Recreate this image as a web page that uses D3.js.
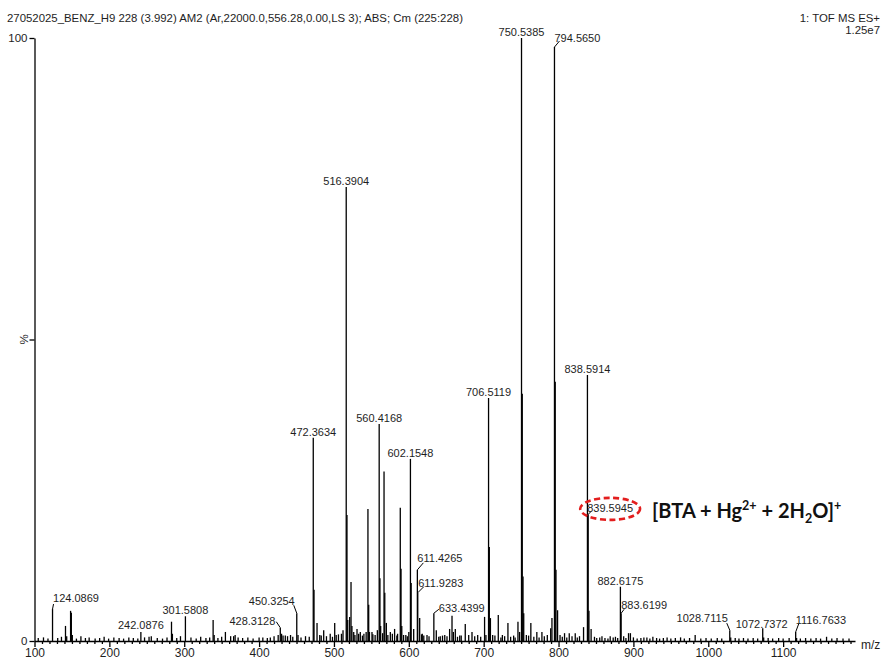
<!DOCTYPE html>
<html>
<head>
<meta charset="utf-8">
<script src="https://cdn.jsdelivr.net/npm/d3@7/dist/d3.min.js"></script>
<style>
  body { margin: 0; background: #fff; }
  svg text { font-family: "Liberation Sans", Arial, Helvetica, sans-serif; fill: #1e1e1e; }
</style>
</head>
<body>
<svg id="chart" width="885" height="659"></svg>
<script>
// header texts
const titleText = "27052025_BENZ_H9 228 (3.992) AM2 (Ar,22000.0,556.28,0.00,LS 3); ABS; Cm (225:228)";
const scanInfo = ["1: TOF MS ES+", "1.25e7"];

// axis ticks
const xTicks = [100, 200, 300, 400, 500, 600, 700, 800, 900, 1000, 1100];
const yTicks = [0, 50, 100];

// main peaks (m/z, relative intensity %)
const peakMz = [124.0869, 141.4, 143.0, 148.2, 149.2, 150.5, 242.0876, 256, 283.0, 284.2,
  301.5808, 338.6, 340, 355.0, 362, 368, 400, 415, 425.5, 428.3128, 430, 432, 438, 442,
  450.3254, 452, 472.3634, 473.37, 477.4, 481, 486.3, 495, 501.0, 503, 510, 512.1,
  516.3904, 517.39, 518.4, 521.0, 522.8, 524, 526.4, 530.8, 535.2, 540, 543, 545.4, 546.4,
  547.4, 550.8, 555, 558, 560.4168, 561.42, 562.4, 566.9, 567.9, 570, 575.3, 581, 585,
  588.6, 589.6, 590.6, 596, 600, 602.1548, 603.15, 606.5, 611.4265, 611.9283, 614.5, 618,
  624.3, 633.4399, 636.7, 642, 648, 654.5, 657.7, 659.5, 662.1, 670, 675.4, 680, 684.4,
  692, 701.2, 703, 706.5119, 707.52, 709, 712, 719.5, 725, 732.4, 740, 745.8, 748,
  750.5385, 751.54, 752.54, 753.5, 757, 763, 771, 777.8, 785, 789.5, 791.2, 794.5650,
  795.57, 796.57, 798.7, 802, 808, 814.3, 822.3, 828, 833.4, 838.5914, 839.5945, 840.6,
  843.5, 858, 869, 876, 882.6175, 883.6199, 887, 893.5, 896, 918, 926, 940, 963, 982.5,
  1028.7115, 1030, 1072.7372, 1074, 1116.7633, 1118, 1158];
const peakInt = [5.3, 2.5, 0.8, 5.0, 4.7, 1.0, 1.5, 0.8, 3.2, 1.2,
  4.1, 3.5, 1.0, 1.5, 0.8, 1.0, 0.6, 0.6, 1.0, 2.2, 1.2, 0.9, 0.8, 1.0,
  4.6, 1.0, 33.7, 8.5, 3.0, 1.0, 1.8, 1.2, 3.0, 1.0, 1.2, 1.8,
  75.3, 20.9, 3.5, 4.0, 9.8, 2.5, 1.5, 2.0, 1.5, 1.2, 1.5, 21.9, 6.0,
  1.5, 1.5, 1.0, 1.8, 36.0, 10.4, 2.5, 28.1, 8.0, 3.0, 1.5, 2.0, 1.2,
  22.1, 12.0, 2.5, 1.0, 1.5, 30.2, 9.6, 2.0, 11.8, 8.0, 3.8, 1.2,
  1.0, 4.6, 1.8, 0.8, 1.0, 2.0, 4.2, 1.5, 2.0, 0.9, 2.8, 1.0, 1.5,
  1.0, 4.0, 1.0, 40.3, 15.6, 3.8, 1.0, 4.3, 1.0, 3.0, 0.9, 3.2, 1.5,
  100, 41, 10.7, 4.6, 1.0, 3.0, 1.5, 1.5, 1.0, 2.1, 3.8, 98.5,
  43, 11.8, 5.1, 1.0, 1.3, 1.3, 1.3, 0.8, 2.3, 44.1, 21, 5.0,
  2.0, 0.8, 0.8, 0.7, 9.0, 4.6, 0.8, 1.3, 1.3, 0.6, 0.7, 0.5, 0.6, 1.0,
  1.8, 0.6, 2.1, 0.6, 1.5, 0.5, 0.7];

// baseline noise
const noiseMz = [105, 112, 118, 131, 136, 156, 162, 168, 173, 181, 187, 193, 199, 206, 213,
  219, 226, 232, 238, 247, 253, 264, 271, 277, 290, 295, 309, 316, 322, 329, 334, 345, 350,
  366, 372, 378, 385, 392, 405, 411, 420, 435, 445, 456, 462, 467, 483, 490, 498, 506, 528,
  533, 538, 552, 565, 572, 578, 584, 593, 598, 617, 620, 627, 640, 645, 651, 665, 668, 688,
  696, 715, 723, 728, 736, 742, 760, 767, 774, 781, 805, 811, 818, 825, 848, 851, 855, 862,
  866, 873, 879, 890, 900, 905, 910, 914, 922, 931, 935, 945, 950, 956, 968, 975, 990, 997,
  1004, 1012, 1018, 1036, 1041, 1047, 1053, 1060, 1066, 1080, 1086, 1094, 1100, 1108, 1123,
  1130, 1137, 1144, 1150, 1165, 1172, 1180, 1188];
const noiseInt = [0.5, 0.6, 0.4, 0.5, 0.7, 0.4, 0.8, 0.5, 0.6, 0.4, 0.5, 0.7, 0.4, 0.6, 0.5,
  0.4, 0.6, 0.5, 0.4, 0.6, 0.7, 0.5, 0.4, 0.6, 0.5, 0.8, 0.6, 0.4, 0.7, 0.5, 0.6, 0.5, 0.7,
  0.8, 0.6, 0.5, 0.6, 0.4, 0.6, 0.5, 0.8, 0.9, 0.7, 0.6, 0.8, 0.7, 0.9, 0.8, 0.7, 1.1, 1.0,
  1.2, 0.9, 1.1, 1.3, 1.0, 1.2, 0.9, 1.0, 0.8, 1.1, 0.9, 0.8, 0.7, 0.9, 0.8, 0.7, 0.9, 0.8,
  0.7, 0.9, 0.6, 0.8, 0.7, 0.6, 0.9, 0.7, 0.6, 0.8, 0.7, 0.6, 0.8, 0.6, 0.7, 0.5, 0.6, 0.5,
  0.4, 0.6, 0.5, 0.5, 0.6, 0.4, 0.5, 0.6, 0.4, 0.5, 0.4, 0.6, 0.4, 0.5, 0.4, 0.5, 0.4, 0.5,
  0.4, 0.5, 0.4, 0.5, 0.4, 0.5, 0.4, 0.5, 0.4, 0.5, 0.4, 0.5, 0.4, 0.5, 0.4,
  0.5, 0.4, 0.5, 0.4, 0.4, 0.5, 0.4, 0.4];

// labelled peaks
const labelMz = [124.0869, 242.0876, 301.5808, 428.3128, 450.3254, 472.3634, 516.3904,
  560.4168, 602.1548, 611.4265, 611.9283, 633.4399, 706.5119, 750.5385, 794.5650, 838.5914,
  839.5945, 882.6175, 883.6199, 1028.7115, 1072.7372, 1116.7633];
const highlightMz = 839.5945;
const annotationParts = [["[BTA + Hg", null], ["2+", "sup"], [" + 2H", null], ["2", "sub"], ["O]", null], ["+", "sup"]];

// label placement (anchor, text offset from peak top, leader end offset)
const labelPlace = {
  "124.0869": { anchor: "start", dx: 0.5, dy: -7, lx: 1, ly: -5 },
  "242.0876": { anchor: "middle", dx: 0, dy: -3 },
  "428.3128": { anchor: "end", dx: -5, dy: -3, lx: -4, ly: -6 },
  "450.3254": { anchor: "end", dx: -2, dy: -8, lx: -3, ly: -8 },
  "611.4265": { anchor: "start", dx: 0, dy: -7.5, lx: 6, ly: -7 },
  "611.9283": { anchor: "start", dx: 0.5, dy: -6, lx: 6, ly: -6 },
  "633.4399": { anchor: "start", dx: 5, dy: -1, lx: 5, ly: -4 },
  "794.5650": { anchor: "start", dx: 0, dy: -5.5, lx: 5, ly: -6 },
  "839.5945": { anchor: "start", dx: -1, dy: -2, lx: 3, ly: -3 },
  "883.6199": { anchor: "start", dx: 0, dy: -4, lx: 3, ly: -4 },
  "1028.7115": { anchor: "end", dx: -2, dy: -8, lx: -3, ly: -7 },
  "1072.7372": { anchor: "middle", dx: -1, dy: 0 },
  "1116.7633": { anchor: "start", dx: 0, dy: -8, lx: 3, ly: -8 }
};

const svg = d3.select("#chart");
const x = d3.scaleLinear().domain([100, 1196]).range([34.5, 855]);
const y = d3.scaleLinear().domain([0, 100]).range([641, 38]);
const fmt = d3.format(".4f");

// header
svg.append("text").attr("x", 7).attr("y", 22).attr("font-size", 11.4).text(titleText);
svg.append("text").attr("x", 880).attr("y", 22).attr("font-size", 11.4)
  .attr("text-anchor", "end").text(scanInfo[0]);
svg.append("text").attr("x", 880).attr("y", 34).attr("font-size", 11.4)
  .attr("text-anchor", "end").text(scanInfo[1]);

// sticks
const sticks = peakMz.map((m, i) => ({ mz: m, v: peakInt[i] }))
  .concat(noiseMz.map((m, i) => ({ mz: m, v: noiseInt[i] })));
svg.append("g")
  .selectAll("line").data(sticks)
  .enter().append("line")
  .attr("x1", d => x(d.mz)).attr("x2", d => x(d.mz))
  .attr("y1", y(0)).attr("y2", d => y(d.v))
  .attr("stroke", "#000").attr("stroke-width", 1.3);

// axes
svg.append("g").attr("transform", "translate(0," + y(0) + ")")
  .call(d3.axisBottom(x).tickValues(xTicks).tickSize(6).tickSizeOuter(0).tickPadding(1).tickFormat(d3.format("d")));
svg.append("g").attr("transform", "translate(0," + y(0) + ")")
  .call(d3.axisBottom(x).tickValues(d3.range(110, 1196, 10).filter(v => v % 100)).tickSize(3).tickFormat(""))
  .call(g => g.select(".domain").remove());
const yAxis = svg.append("g").attr("transform", "translate(" + x(100) + ",0)")
  .call(d3.axisLeft(y).tickValues(yTicks).tickSize(5).tickSizeOuter(0).tickPadding(2)
    .tickFormat(d => d === 50 ? "" : d));
svg.selectAll(".tick text").attr("font-size", 12).attr("fill", "#1e1e1e");
svg.selectAll(".domain, .tick line").attr("stroke", "#000").attr("stroke-width", 1.3);
yAxis.selectAll(".tick text").attr("font-size", 11.5);

svg.append("text").attr("transform", "translate(28," + y(50) + ") rotate(-90)")
  .attr("text-anchor", "middle").attr("font-size", 11.5).text("%");
svg.append("text").attr("x", 861).attr("y", 649).attr("font-size", 12).text("m/z");

// peak labels
const intOf = m => peakInt[peakMz.indexOf(m)];
const labels = svg.append("g");
labelMz.forEach(m => {
  const key = fmt(m);
  const p = labelPlace[key] || { anchor: "middle", dx: 0, dy: -2 };
  const px = x(m), top = y(intOf(m));
  if (p.lx !== undefined) {
    labels.append("line")
      .attr("x1", px).attr("y1", top).attr("x2", px + p.lx).attr("y2", top + p.ly)
      .attr("stroke", "#000").attr("stroke-width", 1);
  }
  const t = labels.append("text")
    .attr("x", px + p.dx).attr("y", top + p.dy)
    .attr("text-anchor", p.anchor).attr("font-size", 11).text(key);
  if (m === highlightMz) {
    const b = t.node().getBBox();
    svg.append("ellipse")
      .attr("cx", b.x + b.width / 2).attr("cy", b.y + b.height / 2 + 0.5)
      .attr("rx", b.width / 2 + 7).attr("ry", 11)
      .attr("fill", "none").attr("stroke", "#e31e1e").attr("stroke-width", 2.6)
      .attr("stroke-dasharray", "6,3.5");
  }
});

// annotation
const ann = svg.append("text").attr("x", 652).attr("y", 518)
  .style("font-family", "Lato, 'Open Sans', sans-serif").style("font-weight", "bold")
  .style("font-size", "20px").style("fill", "#111");
annotationParts.forEach(([s, kind], i) => {
  const ts = ann.append("tspan").text(s);
  const prev = i > 0 ? annotationParts[i - 1][1] : null;
  if (kind === "sup") ts.style("font-size", "12.5px").attr("dy", -8.5);
  else if (kind === "sub") ts.style("font-size", "12.5px").attr("dy", 5);
  else ts.attr("dy", prev === "sup" ? 8.5 : prev === "sub" ? -5 : 0);
});
</script>
</body>
</html>
